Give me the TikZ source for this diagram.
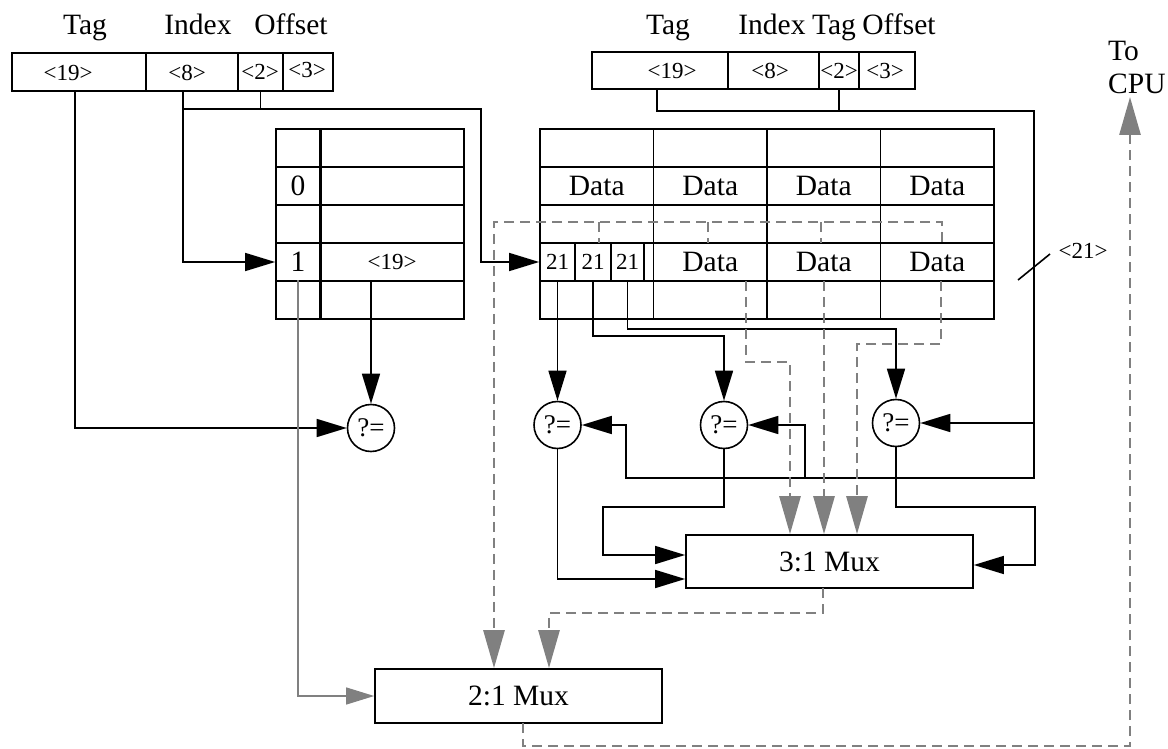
\documentclass[tikz,border=0pt]{standalone}
\usepackage[no-math]{fontspec}
\setmainfont{Liberation Serif}
\usetikzlibrary{arrows.meta}
\begin{document}
\begin{tikzpicture}[x=1pt,y=-1pt,
  ln/.style={line width=1.6pt},
  arr/.style={ln,-{Triangle[length=30pt,width=18pt]}},
  garr/.style={line width=1.3pt,draw=gray,-{Triangle[length=28pt,width=17pt]}},
  dsh/.style={line width=2.8pt,draw=gray,dash pattern=on 10pt off 6pt},
  dsharr/.style={dsh,-{Triangle[length=38pt,width=21pt]}},
  cell/.style={draw,line width=1.7pt,inner sep=0pt,minimum height=38pt},
  big/.style={font=\fontsize{29.5}{33}\selectfont,inner sep=0pt},
  small/.style={font=\fontsize{23}{26}\selectfont,inner sep=0pt},
  cmp/.style={draw,circle,fill=white,line width=1.6pt,minimum size=47pt,inner sep=0pt,font=\fontsize{27}{30}\selectfont},
  mux/.style={draw,line width=1.7pt,minimum width=287pt,inner sep=0pt,font=\fontsize{29.5}{33}\selectfont}
]
\useasboundingbox (0,0) rectangle (1168,749);

% ---- left address ----
\node[big,anchor=base] (ltag) at (85,35) {Tag};
\node[big,anchor=base] (lidx) at (198,35) {Index};
\node[big,anchor=base] (loff) at (291,35) {Offset};
\node[cell,minimum width=134pt] (la19) at (79,72) {};
\node[cell,minimum width=92pt] (la8) at (192,72) {};
\node[cell,minimum width=45pt] (la2) at (260.5,72) {};
\node[cell,minimum width=50pt] (la3) at (308,72) {};
\node[small] (t19) at (68,73) {<19>};
\node[small] (t8) at (187,73) {<8>};
\node[small] (t2) at (260,72) {<2>};
\node[small] (t3) at (307,70) {<3>};

% ---- right address ----
\node[big,anchor=base] (rtag) at (668,35) {Tag};
\node[big,anchor=base] (ridx) at (772,35) {Index};
\node[big,anchor=base] (rtag2) at (834,35) {Tag};
\node[big,anchor=base] (roff) at (899,35) {Offset};
\node[cell,minimum height=37pt,minimum width=136pt] (ra19) at (660,70.5) {};
\node[cell,minimum height=37pt,minimum width=91pt] (ra8) at (773.5,70.5) {};
\node[cell,minimum height=37pt,minimum width=40pt] (ra2) at (839,70.5) {};
\node[cell,minimum height=37pt,minimum width=56pt] (ra3) at (887,70.5) {};
\node[small] (u19) at (672,71) {<19>};
\node[small] (u8) at (770,71) {<8>};
\node[small] (u2) at (839,71) {<2>};
\node[small] (u3) at (885,71) {<3>};

% ---- left table ----
\foreach \r in {1,...,5}{
  \node[cell,minimum width=44pt] (L\r c1) at (298,{148+38*(\r-1)}) {};
  \node[cell,minimum width=144pt] (L\r c2) at (392,{148+38*(\r-1)}) {};
}
\draw[line width=2.6pt] (L1c1.north east) -- (L5c1.south east);
\node[big] (z0) at (L2c1) {0};
\node[big] (z1) at (L4c1) {1};
\node[small] (ltg) at (L4c2) {<19>};

% ---- right table ----
\foreach \r in {1,...,5}{
  \foreach \c/\x in {1/596.75,2/710.25,3/823.75,4/937.25}{
    \node[cell,minimum width=113.5pt] (R\r c\c) at (\x,{148+38*(\r-1)}) {};
  }
}
\foreach \c in {1,...,4}{ \node[big] at (R2c\c) {Data}; }
\foreach \c in {2,3,4}{ \node[big] at (R4c\c) {Data}; }
\node[cell,minimum width=35pt] (Rs1) at (557.5,262) {\fontsize{23}{26}\selectfont 21};
\node[cell,minimum width=36pt] (Rs2) at (593,262) {\fontsize{23}{26}\selectfont 21};
\node[cell,minimum width=33pt] (Rs3) at (627.5,262) {\fontsize{23}{26}\selectfont 21};

% ---- comparators and muxes ----
\node[cmp] (cmpL) at (371,428) {?=};
\node[cmp] (cmp1) at (557.5,425) {?=};
\node[cmp] (cmp2) at (724,425) {?=};
\node[cmp] (cmp3) at (896,423) {?=};
\node[mux,minimum height=53pt] (mux3) at (829.5,561.5) {3:1 Mux};
\node[mux,minimum height=54pt] (mux2) at (518.5,696) {2:1 Mux};
\node[big,align=left,anchor=north west] (cpu) at (1108,41) {To\\CPU};
\node[small] (lbl21) at (1083,251) {<21>};

% ---- coordinates ----
\coordinate (tagL) at ([xshift=-4pt]la19.south);
\coordinate (idxL) at ([xshift=-9pt]la8.south);
\coordinate (busL) at (481,109);
\coordinate (tagR) at ([xshift=-3pt]ra19.south);
\coordinate (busR) at (1034,111);
\coordinate (busRb) at (1034,478);
\coordinate (bl) at (626,478);
\coordinate (br2) at (805,478);
\coordinate (c2a) at (603,507);
\coordinate (c3a) at (1035,507);

% ---- black connectors ----
\draw[arr] (tagL) |- (cmpL.west);
\draw[arr] (idxL) |- (L4c1.west);
\draw[arr] (idxL |- busL) -- (busL) |- (Rs1.west);
\draw[ln] (la2.south) -- (la2.south |- busL);
\draw[arr] (cmpL.north |- L5c2.north) -- (cmpL.north);
\draw[garr] (L5c1.north) |- (mux2.west);

\draw[arr] (tagR) |- (busR) -- (busRb) -- (bl) |- (cmp1.east);
\draw[ln] (ra2.south) -- (ra2.south |- busR);
\draw[arr] (busR |- cmp3.east) -- (cmp3.east);
\draw[arr] (br2) |- (cmp2.east);

\draw[arr] (Rs1.south) -- (cmp1.north);
\draw[arr] (Rs2.south) -- ++(0,54) -| (cmp2.north);
\draw[arr] (Rs3.south) -- ++(0,47) -| (cmp3.north);

\draw[arr] (cmp1.south) |- ([yshift=-17.5pt]mux3.west);
\draw[arr] (cmp2.south) |- (c2a) |- ([yshift=6.5pt]mux3.west);
\draw[arr] (cmp3.south) |- (c3a) |- ([yshift=-3.5pt]mux3.east);

\draw[ln] (1018,280) -- (1050,254);

% ---- dashed data paths ----
\coordinate (dL) at (494,222);
\coordinate (dR) at (942,222);
\draw[dsharr] (dR |- R4c4.north) -- (dR) -- (dL) -- (dL |- mux2.north);
\foreach \x in {599,708,821}{ \draw[dsh] (\x,222) -- (\x,243); }

\coordinate (e1) at (746,281);
\coordinate (e1b) at (790,362);
\coordinate (e2) at (824,281);
\coordinate (e3) at (941,281);
\coordinate (e3b) at (857,344);
\draw[dsharr] (e1) |- (e1b) -- (e1b |- mux3.north);
\draw[dsharr] (e2) -- (e2 |- mux3.north);
\draw[dsharr] (e3) |- (e3b) -- (e3b |- mux3.north);

\coordinate (f1) at (823,588);
\coordinate (f2) at (549,613);
\draw[dsharr] (f1) |- (f2) -- (f2 |- mux2.north);

\coordinate (g1) at (523,723);
\coordinate (g2) at (1130,746);
\coordinate (g3) at (1130,97);
\draw[dsharr] (g1) |- (g2) -- (g3);
\end{tikzpicture}
\end{document}
